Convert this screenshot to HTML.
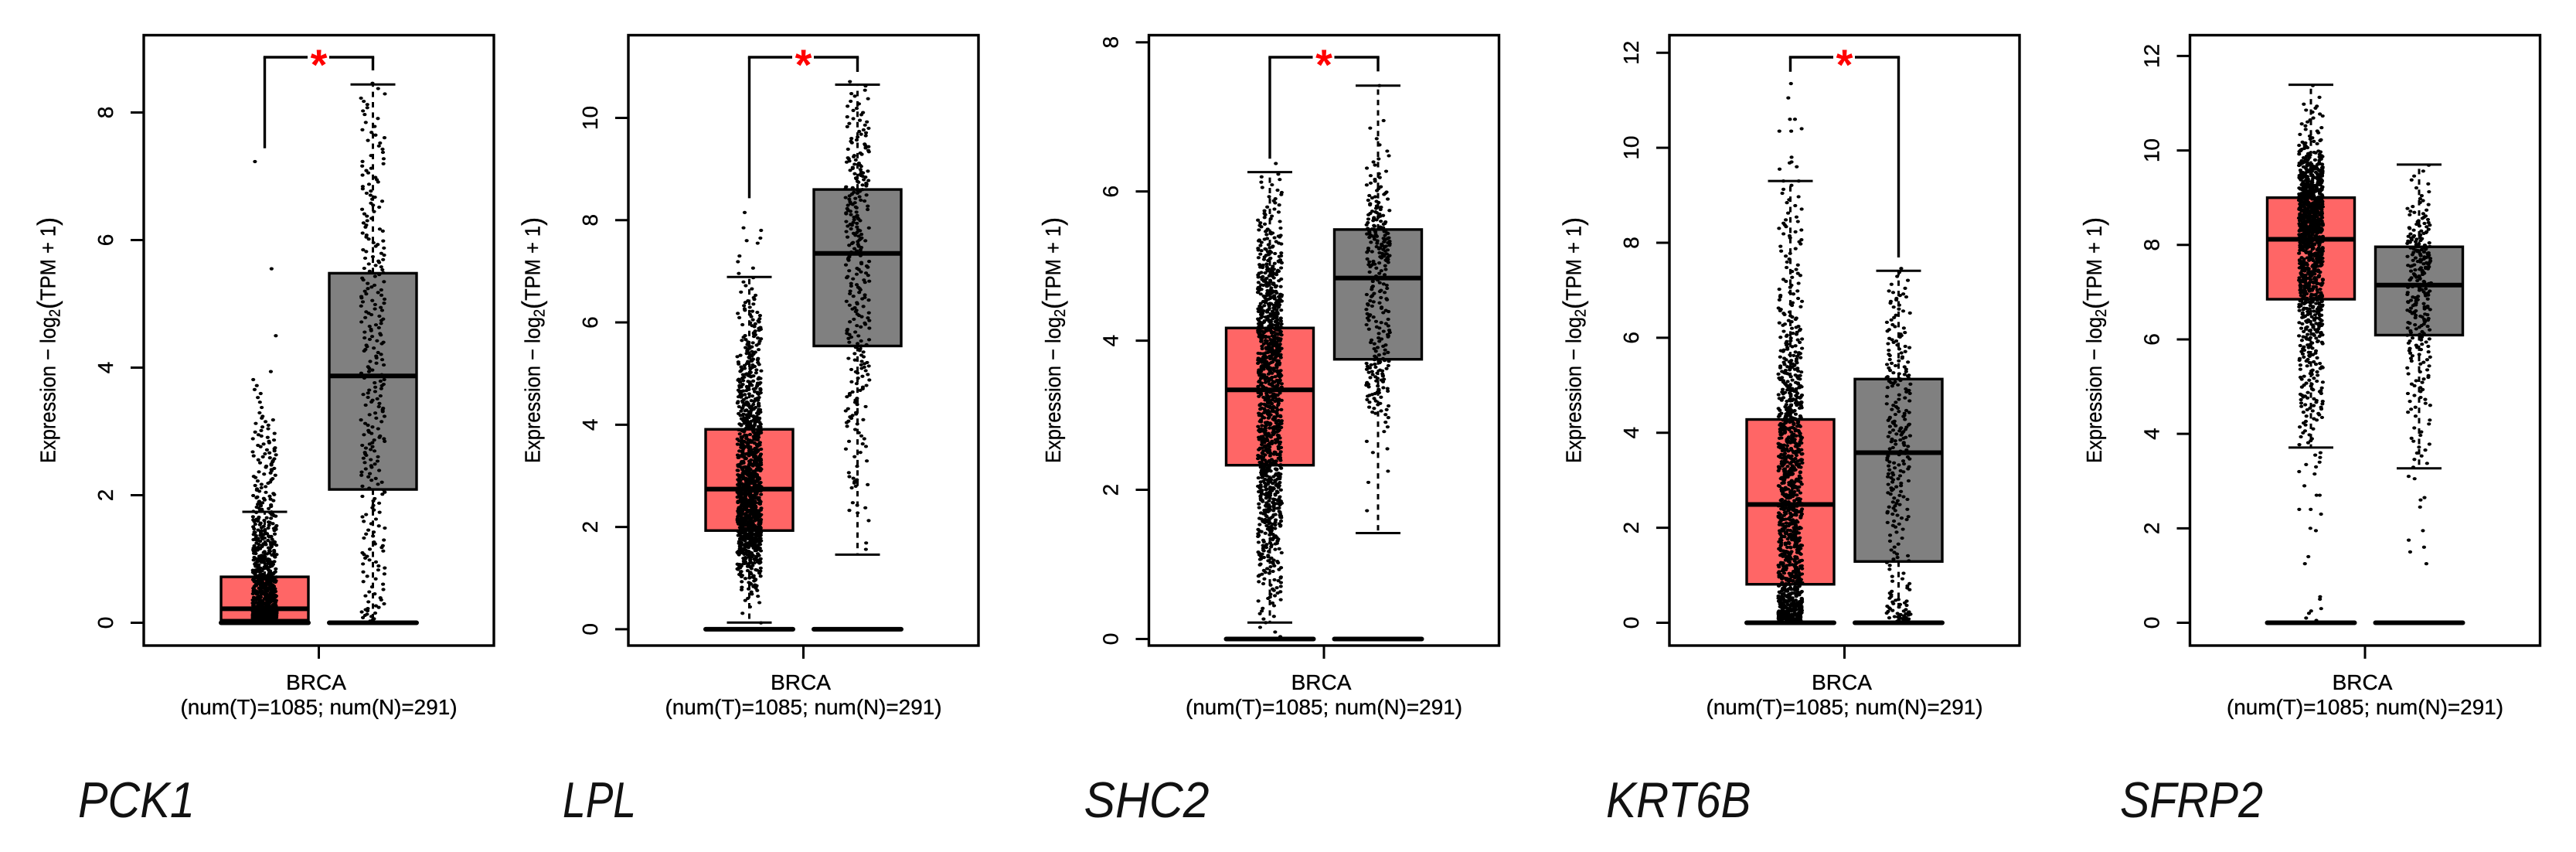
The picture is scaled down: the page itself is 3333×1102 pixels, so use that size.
<!DOCTYPE html>
<html lang="en">
<head>
<meta charset="utf-8">
<title>Gene expression box plots in BRCA</title>
<style>
html,body{margin:0;padding:0;background:#fff;}
svg{display:block;}
text{font-family:"Liberation Sans",sans-serif;fill:#000;}
.axis-label{font-size:28px;stroke:#000;stroke-width:0.35;}
.gene{font-size:65px;font-style:italic;fill:#111;}
.frame{fill:none;stroke:#000;stroke-width:3.4;}
.star{font-size:56px;font-weight:bold;fill:#f00;text-anchor:middle;}
.paren{font-size:36px;}
</style>
</head>
<body>
<svg id="figure" xmlns="http://www.w3.org/2000/svg" width="3333" height="1102" viewBox="0 0 3333 1102">
  <rect width="3333" height="1102" fill="#fff"/>

  <g id="panel-0" transform="translate(186,0)">
    <rect class="frame" x="0" y="45.5" width="453" height="789.5"/>
    <line x1="226.5" x2="226.5" y1="835" y2="852" stroke="#000" stroke-width="3"/>
    <text class="axis-label" x="223" y="892" text-anchor="middle">BRCA</text>
    <text class="axis-label" x="226.5" y="924" text-anchor="middle" textLength="358" lengthAdjust="spacingAndGlyphs">(num(T)=1085; num(N)=291)</text>
    <text class="axis-label" transform="translate(-114.6,440) rotate(-90)" text-anchor="middle" textLength="318" lengthAdjust="spacingAndGlyphs">Expression − log<tspan font-size="20" dy="6">2</tspan><tspan class="paren" dy="-4">(</tspan><tspan dy="-2">TPM + 1</tspan><tspan class="paren" dy="2">)</tspan></text>
    <text class="gene" x="-85" y="1057" textLength="151" lengthAdjust="spacingAndGlyphs">PCK1</text>
    <text class="star" x="226.5" y="103">*</text>
  </g>

  <g id="panel-1" transform="translate(813,0)">
    <rect class="frame" x="0" y="45.5" width="453" height="789.5"/>
    <line x1="226.5" x2="226.5" y1="835" y2="852" stroke="#000" stroke-width="3"/>
    <text class="axis-label" x="223" y="892" text-anchor="middle">BRCA</text>
    <text class="axis-label" x="226.5" y="924" text-anchor="middle" textLength="358" lengthAdjust="spacingAndGlyphs">(num(T)=1085; num(N)=291)</text>
    <text class="axis-label" transform="translate(-114.6,440) rotate(-90)" text-anchor="middle" textLength="318" lengthAdjust="spacingAndGlyphs">Expression − log<tspan font-size="20" dy="6">2</tspan><tspan class="paren" dy="-4">(</tspan><tspan dy="-2">TPM + 1</tspan><tspan class="paren" dy="2">)</tspan></text>
    <text class="gene" x="-85" y="1057" textLength="95" lengthAdjust="spacingAndGlyphs">LPL</text>
    <text class="star" x="226.5" y="103">*</text>
  </g>

  <g id="panel-2" transform="translate(1486.5,0)">
    <rect class="frame" x="0" y="45.5" width="453" height="789.5"/>
    <line x1="226.5" x2="226.5" y1="835" y2="852" stroke="#000" stroke-width="3"/>
    <text class="axis-label" x="223" y="892" text-anchor="middle">BRCA</text>
    <text class="axis-label" x="226.5" y="924" text-anchor="middle" textLength="358" lengthAdjust="spacingAndGlyphs">(num(T)=1085; num(N)=291)</text>
    <text class="axis-label" transform="translate(-114.6,440) rotate(-90)" text-anchor="middle" textLength="318" lengthAdjust="spacingAndGlyphs">Expression − log<tspan font-size="20" dy="6">2</tspan><tspan class="paren" dy="-4">(</tspan><tspan dy="-2">TPM + 1</tspan><tspan class="paren" dy="2">)</tspan></text>
    <text class="gene" x="-84" y="1057" textLength="162" lengthAdjust="spacingAndGlyphs">SHC2</text>
    <text class="star" x="226.5" y="103">*</text>
  </g>

  <g id="panel-3" transform="translate(2160,0)">
    <rect class="frame" x="0" y="45.5" width="453" height="789.5"/>
    <line x1="226.5" x2="226.5" y1="835" y2="852" stroke="#000" stroke-width="3"/>
    <text class="axis-label" x="223" y="892" text-anchor="middle">BRCA</text>
    <text class="axis-label" x="226.5" y="924" text-anchor="middle" textLength="358" lengthAdjust="spacingAndGlyphs">(num(T)=1085; num(N)=291)</text>
    <text class="axis-label" transform="translate(-114.6,440) rotate(-90)" text-anchor="middle" textLength="318" lengthAdjust="spacingAndGlyphs">Expression − log<tspan font-size="20" dy="6">2</tspan><tspan class="paren" dy="-4">(</tspan><tspan dy="-2">TPM + 1</tspan><tspan class="paren" dy="2">)</tspan></text>
    <text class="gene" x="-82" y="1057" textLength="187.6" lengthAdjust="spacingAndGlyphs">KRT6B</text>
    <text class="star" x="226.5" y="103">*</text>
  </g>

  <g id="panel-4" transform="translate(2833.5,0)">
    <rect class="frame" x="0" y="45.5" width="453" height="789.5"/>
    <line x1="226.5" x2="226.5" y1="835" y2="852" stroke="#000" stroke-width="3"/>
    <text class="axis-label" x="223" y="892" text-anchor="middle">BRCA</text>
    <text class="axis-label" x="226.5" y="924" text-anchor="middle" textLength="358" lengthAdjust="spacingAndGlyphs">(num(T)=1085; num(N)=291)</text>
    <text class="axis-label" transform="translate(-114.6,440) rotate(-90)" text-anchor="middle" textLength="318" lengthAdjust="spacingAndGlyphs">Expression − log<tspan font-size="20" dy="6">2</tspan><tspan class="paren" dy="-4">(</tspan><tspan dy="-2">TPM + 1</tspan><tspan class="paren" dy="2">)</tspan></text>
    <text class="gene" x="-90.5" y="1057" textLength="185" lengthAdjust="spacingAndGlyphs">SFRP2</text>
  </g>
</svg>

<script>
// Values are listed per panel in the order PCK1, LPL, SHC2, KRT6B, SFRP2.
const yTickLabels = [[0,2,4,6,8],[0,2,4,6,8,10],[0,2,4,6,8],[0,2,4,6,8,10,12],[0,2,4,6,8,10,12]];

const tumorLow    = [0,    0.13, 0.22, 0,    3.71];
const tumorQ1     = [0.04, 1.93, 2.33, 0.81, 6.85];
const tumorMedian = [0.22, 2.74, 3.34, 2.49, 8.12];
const tumorQ3     = [0.72, 3.91, 4.17, 4.28, 9.00];
const tumorHigh   = [1.74, 6.89, 6.26, 9.30, 11.39];

const normalLow    = [0,    1.46, 1.42, 0,    3.27];
const normalQ1     = [2.09, 5.54, 3.75, 1.29, 6.09];
const normalMedian = [3.87, 7.35, 4.84, 3.58, 7.15];
const normalQ3     = [5.48, 8.60, 5.49, 5.13, 7.96];
const normalHigh   = [8.44, 10.65, 7.42, 7.41, 9.70];

const bracketTumorEnd  = [7.44, 8.43, 6.44, 11.60, null];
const bracketNormalEnd = [8.66, 10.90, 7.61, 7.69, null];

// Estimated dot counts in consecutive 0.25-wide expression bins, starting at 0.
const tumorBinCounts = [
  [560,130,110,70,55,40,30,22,14,14,16,12,9,3,4,2],
  [1,2,6,16,30,50,70,90,95,95,85,72,66,60,52,45,42,38,35,30,26,20,16,14,12,8,4,3,2],
  [4,7,14,20,28,35,48,55,60,60,62,62,62,60,82,82,80,70,55,45,32,24,14,9,7,1],
  [120,75,50,45,42,42,42,42,41,41,38,38,38,38,38,40,41,40,33,27,24,22,17,14,12,10,9,8,6,6,4,5,6,7,3,4,3],
  [0,0,0,0,0,0,0,0,0,0,0,0,0,0,0,6,6,9,14,13,12,14,15,18,25,30,35,40,50,55,60,60,62,85,90,95,85,70,50,28,15,7,6,6,1,1]
];
const normalBinCounts = [
  [14,8,6,8,9,8,7,7,8,10,11,12,9,10,11,10,9,11,11,11,12,9,11,9,8,7,8,7,7,5,6,4,5,3],
  [0,0,0,0,0,0,2,0,1,5,0,8,2,3,5,4,9,6,8,7,11,8,10,10,10,10,10,11,11,11,14,14,15,15,14,15,12,10,9,8,6,5,3],
  [0,0,0,0,0,0,0,0,0,0,0,4,15,22,25,15,17,17,18,14,33,38,26,16,10,6,3],
  [30,14,7,5,3,7,4,4,8,10,9,10,12,12,10,14,16,12,8,8,16,10,9,9,8,5,6,8,3,3],
  [0,0,0,0,0,0,0,0,0,0,0,0,0,3,4,4,3,3,6,6,7,6,9,11,13,15,18,18,16,21,24,26,20,14,10,6,3,3,2]
];

// Individually visible dots in the sparse tails.
const tumorTailValues = [
  [4.5,5.55,7.23],
  [7.3,7.55,7.6,7.65,7.8,7.85,8.15],
  [],
  [9.3,9.3,9.55,9.6,9.68,9.7,9.8,10.35,10.35,10.4,10.6,10.6,11.05,11.35],
  [0.05,0.1,0.2,0.25,0.3,0.5,0.55,1.25,1.4,1.95,2.0,2.3,2.4,2.4,2.7,2.7,2.9,3.15,3.2,3.3,3.35,3.4,3.5,3.55,3.6]
];
const normalTailValues = [
  [],
  [],
  [1.72,2.1,2.25,2.5,2.55,2.65,6.85,6.95,7.42],
  [],
  [1.25,1.5,1.6,1.75,1.95,2.45,2.6,2.65,3.05,3.1]
];

// Axis placement, in pixels.
const zeroPx = [805.5, 813.9, 826.5, 805.5, 805.5];
const unitPx = [82.5, 66.14, 96.47, 61.44, 61.09];
const binWidth = 0.25;
const tumorCentre = 156.5;
const normalCentre = 296.5;
const boxHalfWidth = 56.5;
const capHalfWidth = 29;
const jitterHalfWidth = 15.5;

const SVG_NS = 'http://www.w3.org/2000/svg';

function yScale(panel, value) {
  return zeroPx[panel] - value * unitPx[panel];
}

function makeLine(x1, y1, x2, y2, width) {
  const el = document.createElementNS(SVG_NS, 'line');
  el.setAttribute('x1', x1);
  el.setAttribute('y1', y1);
  el.setAttribute('x2', x2);
  el.setAttribute('y2', y2);
  el.setAttribute('stroke', '#000');
  el.setAttribute('stroke-width', width);
  return el;
}

// Repeatable horizontal scatter: only the sideways jitter comes from this hash.
function jitterUnit(n) {
  let h = Math.imul(n + 0x6D2B79F5, 0x9E3779B1);
  h = Math.imul(h ^ (h >>> 15), h | 1);
  h ^= h + Math.imul(h ^ (h >>> 7), h | 61);
  return ((h ^ (h >>> 14)) >>> 0) / 4294967296;
}

function drawAxis(panel, root) {
  yTickLabels[panel].forEach(function (tick) {
    const y = yScale(panel, tick);
    const mark = makeLine(-17, y, 0, y, 3);
    
    
    root.appendChild(mark);
    const label = document.createElementNS(SVG_NS, 'text');
    label.setAttribute('class', 'axis-label');
    label.setAttribute('text-anchor', 'middle');
    label.setAttribute('transform', 'translate(-40,' + y + ') rotate(-90)');
    label.textContent = String(tick);
    
    
    root.appendChild(label);
  });
}

function drawBox(panel, root, centre, fill, stats) {
  const left = centre - boxHalfWidth;
  const right = centre + boxHalfWidth;
  const yLow = yScale(panel, stats.low);
  const yQ1 = yScale(panel, stats.q1);
  const yMedian = yScale(panel, stats.median);
  const yQ3 = yScale(panel, stats.q3);
  const yHigh = yScale(panel, stats.high);

  const upper = makeLine(centre, yQ3, centre, yHigh, 3);
  upper.setAttribute('stroke-dasharray', '7 6.4');
  
  
  root.appendChild(upper);

  const lower = makeLine(centre, yQ1, centre, yLow, 3);
  lower.setAttribute('stroke-dasharray', '7 6.4');
  
  
  root.appendChild(lower);

  const capHigh = makeLine(centre - capHalfWidth, yHigh, centre + capHalfWidth, yHigh, 3);
  
  
  root.appendChild(capHigh);

  const capLow = makeLine(centre - capHalfWidth, yLow, centre + capHalfWidth, yLow, 3);
  
  
  root.appendChild(capLow);

  const box = document.createElementNS(SVG_NS, 'rect');
  box.setAttribute('x', left);
  box.setAttribute('y', yQ3);
  box.setAttribute('width', right - left);
  box.setAttribute('height', yQ1 - yQ3);
  box.setAttribute('fill', fill);
  box.setAttribute('stroke', '#000');
  box.setAttribute('stroke-width', '3.4');
  
  
  root.appendChild(box);

  const median = makeLine(left, yMedian, right, yMedian, 6);
  
  
  root.appendChild(median);

  const baseline = makeLine(left, yScale(panel, 0), right, yScale(panel, 0), 6);
  baseline.setAttribute('stroke-linecap', 'round');
  
  
  root.appendChild(baseline);
}

function addDot(group, panel, centre, value, seed) {
  const dot = document.createElementNS(SVG_NS, 'ellipse');
  dot.setAttribute('cx', centre + (jitterUnit(seed) * 2 - 1) * jitterHalfWidth);
  dot.setAttribute('cy', yScale(panel, value));
  dot.setAttribute('rx', '2.6');
  dot.setAttribute('ry', '2.1');
  dot.setAttribute('fill', '#000');
  
  
  group.appendChild(dot);
}

function drawDots(panel, root, centre, counts, tails, seedBase, name) {
  const group = document.createElementNS(SVG_NS, 'g');
  
  
  let seed = seedBase;
  counts.forEach(function (count, bin) {
    for (let i = 0; i < count; i++) {
      addDot(group, panel, centre, (bin + (i + 0.5) / count) * binWidth, seed++);
    }
  });
  tails.forEach(function (value) {
    addDot(group, panel, centre, value, seed++);
  });
  root.appendChild(group);
}

function drawBracket(panel, root) {
  if (bracketTumorEnd[panel] === null) return;
  const top = 74;
  const leftArm = makeLine(tumorCentre, top, tumorCentre, yScale(panel, bracketTumorEnd[panel]), 3.4);
  
  
  root.appendChild(leftArm);
  const rightArm = makeLine(normalCentre, top, normalCentre, yScale(panel, bracketNormalEnd[panel]), 3.4);
  
  
  root.appendChild(rightArm);
  const leftTop = makeLine(tumorCentre - 1.7, top, 212, top, 3.4);
  
  
  root.appendChild(leftTop);
  const rightTop = makeLine(240, top, normalCentre + 1.7, top, 3.4);
  
  
  root.appendChild(rightTop);
}

yTickLabels.forEach(function (ticks, panel) {
  const root = document.getElementById('panel-' + panel);
  drawAxis(panel, root);
  drawBox(panel, root, tumorCentre, '#ff6666', {
    low: tumorLow[panel], q1: tumorQ1[panel], median: tumorMedian[panel], q3: tumorQ3[panel], high: tumorHigh[panel]
  });
  drawBox(panel, root, normalCentre, '#808080', {
    low: normalLow[panel], q1: normalQ1[panel], median: normalMedian[panel], q3: normalQ3[panel], high: normalHigh[panel]
  });
  drawDots(panel, root, tumorCentre, tumorBinCounts[panel], tumorTailValues[panel], (panel + 1) * 10000, 'tumor-dots');
  drawDots(panel, root, normalCentre, normalBinCounts[panel], normalTailValues[panel], (panel + 1) * 50000, 'normal-dots');
  drawBracket(panel, root);
});
</script>
</body>
</html>
